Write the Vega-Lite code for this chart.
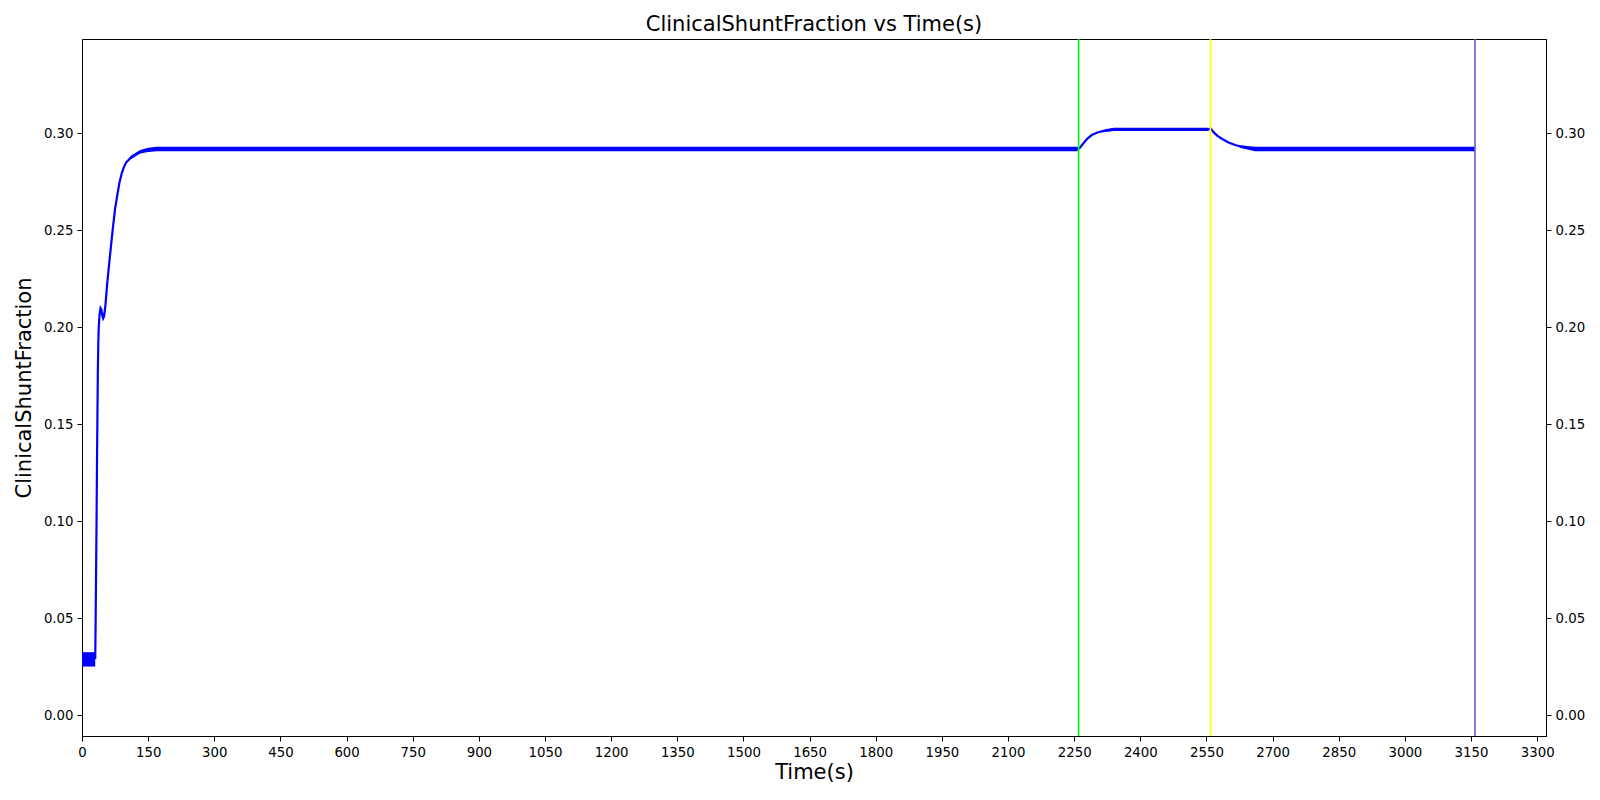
{
  "$schema": "https://vega.github.io/schema/vega-lite/v6.json",
  "autosize": {"type": "none"},
  "width": 1464,
  "height": 697,
  "padding": {"left": 82, "top": 39, "right": 54, "bottom": 64},
  "background": "white",
  "title": {
    "text": "ClinicalShuntFraction vs Time(s)",
    "font": "DejaVu Sans",
    "fontSize": 21,
    "fontWeight": "normal",
    "color": "black",
    "anchor": "middle",
    "offset": 3
  },
  "datasets": {
    "trace": [
      {"t": 0, "v": 0.0288}, {"t": 30, "v": 0.0295}, {"t": 31, "v": 0.05}, {"t": 32, "v": 0.075},
      {"t": 33, "v": 0.1}, {"t": 34, "v": 0.13}, {"t": 35, "v": 0.155}, {"t": 36, "v": 0.178},
      {"t": 37, "v": 0.192}, {"t": 38, "v": 0.2}, {"t": 40, "v": 0.207}, {"t": 42, "v": 0.2098},
      {"t": 44, "v": 0.209}, {"t": 46, "v": 0.206}, {"t": 48, "v": 0.2045}, {"t": 50, "v": 0.2055},
      {"t": 53, "v": 0.211}, {"t": 57, "v": 0.222}, {"t": 60, "v": 0.229}, {"t": 64, "v": 0.238},
      {"t": 70, "v": 0.251}, {"t": 75, "v": 0.261}, {"t": 80, "v": 0.268}, {"t": 85, "v": 0.2745},
      {"t": 90, "v": 0.2792}, {"t": 95, "v": 0.2825}, {"t": 100, "v": 0.2848}, {"t": 110, "v": 0.2872},
      {"t": 120, "v": 0.2889}, {"t": 132, "v": 0.2903}, {"t": 145, "v": 0.2911}, {"t": 160, "v": 0.2916},
      {"t": 170, "v": 0.2918}, {"t": 2258, "v": 0.2918}, {"t": 2262, "v": 0.2922}, {"t": 2270, "v": 0.2945},
      {"t": 2280, "v": 0.2972}, {"t": 2290, "v": 0.299}, {"t": 2300, "v": 0.3001}, {"t": 2310, "v": 0.3008},
      {"t": 2320, "v": 0.3013}, {"t": 2340, "v": 0.3018}, {"t": 2400, "v": 0.302}, {"t": 2500, "v": 0.302},
      {"t": 2555, "v": 0.302}, {"t": 2560, "v": 0.3023}, {"t": 2566, "v": 0.3005}, {"t": 2575, "v": 0.2986},
      {"t": 2585, "v": 0.2971}, {"t": 2600, "v": 0.2952}, {"t": 2615, "v": 0.2939}, {"t": 2630, "v": 0.293},
      {"t": 2645, "v": 0.2924}, {"t": 2660, "v": 0.292}, {"t": 2680, "v": 0.2918}, {"t": 3159, "v": 0.2918}
    ],
    "band": [
      {"seg": "A", "t": 0, "lo": 0.0251, "hi": 0.0325},
      {"seg": "A", "t": 30, "lo": 0.0251, "hi": 0.0325},
      {"seg": "B", "t": 110, "lo": 0.2864, "hi": 0.2882},
      {"seg": "B", "t": 132, "lo": 0.2895, "hi": 0.2913},
      {"seg": "B", "t": 150, "lo": 0.2903, "hi": 0.2925},
      {"seg": "B", "t": 170, "lo": 0.2906, "hi": 0.293},
      {"seg": "B", "t": 2258, "lo": 0.2906, "hi": 0.293},
      {"seg": "C", "t": 2320, "lo": 0.3006, "hi": 0.302},
      {"seg": "C", "t": 2340, "lo": 0.3011, "hi": 0.3028},
      {"seg": "C", "t": 2555, "lo": 0.3011, "hi": 0.3028},
      {"seg": "D", "t": 2625, "lo": 0.2924, "hi": 0.2938},
      {"seg": "D", "t": 2660, "lo": 0.2906, "hi": 0.293},
      {"seg": "D", "t": 3159, "lo": 0.2906, "hi": 0.293}
    ],
    "events": [
      {"t": 2260, "ev": "event1"},
      {"t": 2559, "ev": "event2"},
      {"t": 3159, "ev": "end"}
    ]
  },
  "encoding": {
    "x": {
      "field": "t",
      "type": "quantitative",
      "scale": {"domain": [0, 3320], "nice": false, "zero": false},
      "axis": {
        "title": "Time(s)",
        "values": [0, 150, 300, 450, 600, 750, 900, 1050, 1200, 1350, 1500, 1650, 1800, 1950, 2100, 2250, 2400, 2550, 2700, 2850, 3000, 3150, 3300],
        "format": "d",
        "titleFontSize": 21,
        "titlePadding": 3
      }
    }
  },
  "layer": [
    {
      "data": {"name": "band"},
      "mark": {"type": "area", "color": "#0000ff", "opacity": 1},
      "encoding": {
        "y": {
          "field": "lo",
          "type": "quantitative",
          "scale": {"domain": [-0.0107, 0.3485], "nice": false, "zero": false},
          "axis": {
            "orient": "left",
            "title": "ClinicalShuntFraction",
            "values": [0, 0.05, 0.1, 0.15, 0.2, 0.25, 0.3],
            "format": ".2f",
            "titleFontSize": 21,
            "titlePadding": 9
          }
        },
        "y2": {"field": "hi"},
        "detail": {"field": "seg"}
      }
    },
    {
      "data": {"name": "trace"},
      "mark": {"type": "line", "color": "#0000ff", "strokeWidth": 2.2},
      "encoding": {
        "y": {
          "field": "v",
          "type": "quantitative",
          "scale": {"domain": [-0.0107, 0.3485], "nice": false, "zero": false},
          "axis": {
            "orient": "right",
            "title": null,
            "values": [0, 0.05, 0.1, 0.15, 0.2, 0.25, 0.3],
            "format": ".2f"
          }
        }
      }
    },
    {
      "data": {"name": "events"},
      "mark": {"type": "rule", "strokeWidth": 1.6},
      "encoding": {
        "color": {
          "field": "ev",
          "type": "nominal",
          "scale": {"domain": ["event1", "event2", "end"], "range": ["#00ff00", "#ffff00", "#6a5acd"]},
          "legend": null
        }
      }
    }
  ],
  "resolve": {"axis": {"y": "independent"}},
  "config": {
    "font": "DejaVu Sans",
    "view": {"stroke": "black", "strokeWidth": 1},
    "axis": {
      "grid": false,
      "labelFont": "DejaVu Sans",
      "labelFontSize": 13.3,
      "labelColor": "black",
      "labelFlush": false,
      "labelOverlap": false,
      "tickColor": "black",
      "tickSize": 5,
      "tickWidth": 1,
      "labelPadding": 4,
      "domainColor": "black",
      "domainWidth": 1,
      "titleFont": "DejaVu Sans",
      "titleFontWeight": "normal",
      "titleColor": "black"
    }
  }
}
